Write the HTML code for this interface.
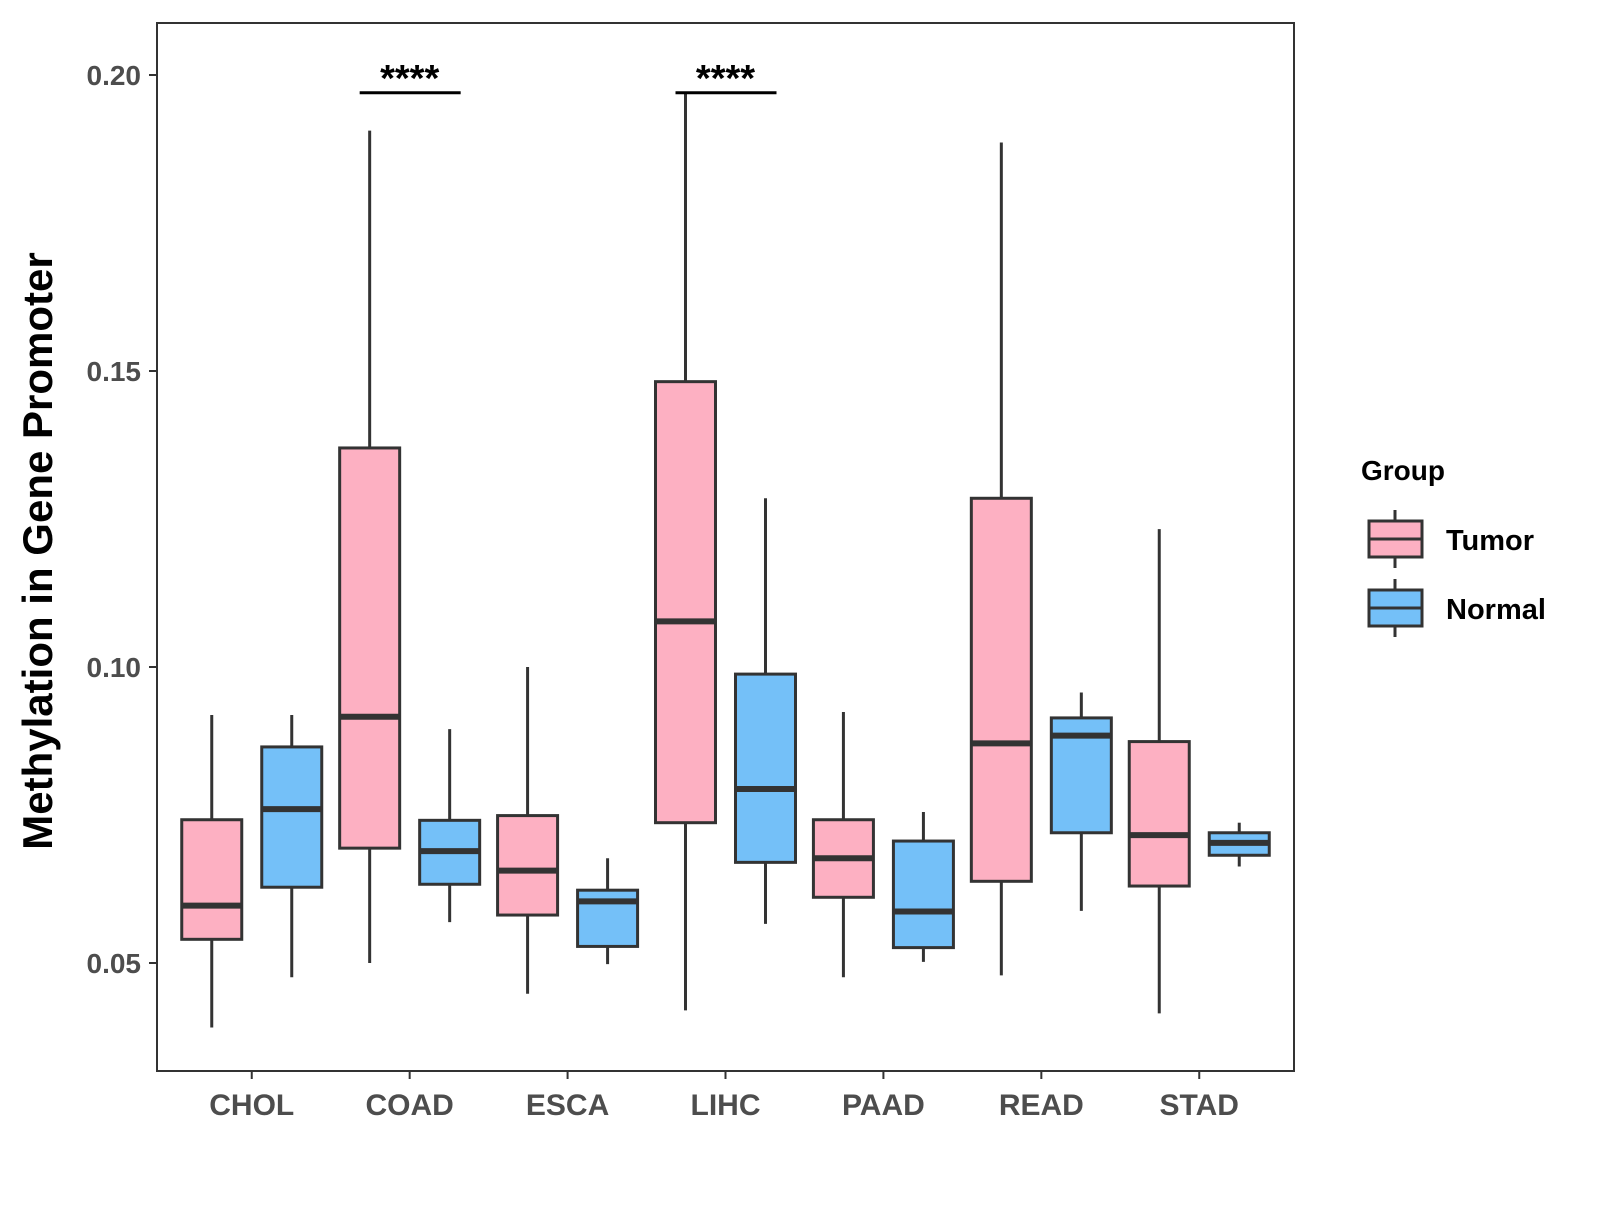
<!DOCTYPE html>
<html><head><meta charset="utf-8"><style>
body{margin:0;background:#fff}
svg text{font-family:"Liberation Sans",Arial,sans-serif;font-weight:bold}
</style></head><body>
<svg id="chart" width="1600" height="1200" xmlns="http://www.w3.org/2000/svg">
<rect x="0" y="0" width="1600" height="1200" fill="#fff"/>
<g id="marks"></g>
<rect x="157" y="23" width="1137" height="1048" fill="none" stroke="#333" stroke-width="2"/>
<g id="axes"></g>
<text x="52" y="551" transform="rotate(-90 52 551)" text-anchor="middle" font-size="42" fill="#000">Methylation in Gene Promoter</text>
<g transform="translate(-7,0)">
<text x="1368" y="480" font-size="28" fill="#000">Group</text>
<g>
<line x1="1402" y1="510" x2="1402" y2="568" stroke="#333" stroke-width="3"/>
<rect x="1376" y="521" width="53" height="36" fill="#FDB0C2" stroke="#333" stroke-width="3"/>
<line x1="1376" y1="539" x2="1429" y2="539" stroke="#333" stroke-width="3"/>
<text x="1453" y="550" font-size="29" fill="#000">Tumor</text>
</g>
<g>
<line x1="1402" y1="579" x2="1402" y2="637" stroke="#333" stroke-width="3"/>
<rect x="1376" y="590" width="53" height="36" fill="#74C0F8" stroke="#333" stroke-width="3"/>
<line x1="1376" y1="608" x2="1429" y2="608" stroke="#333" stroke-width="3"/>
<text x="1453" y="619" font-size="29" fill="#000">Normal</text>
</g>
</g>
</svg>
<script>
const categories=["CHOL","COAD","ESCA","LIHC","PAAD","READ","STAD"];
const tumorLow=[0.0391,0.050,0.0448,0.042,0.0476,0.0479,0.0415];
const tumorQ1=[0.054,0.0694,0.0581,0.0737,0.0611,0.0638,0.063];
const tumorMed=[0.0597,0.0916,0.0656,0.1077,0.0677,0.0871,0.0716];
const tumorQ3=[0.0742,0.137,0.0749,0.1482,0.0742,0.1285,0.0874];
const tumorHigh=[0.0919,0.1906,0.100,0.1969,0.0924,0.1886,0.1233];
const normalLow=[0.0476,0.0569,0.0498,0.0566,0.0502,0.0588,0.0663];
const normalQ1=[0.0628,0.0633,0.0528,0.067,0.0526,0.072,0.0682];
const normalMed=[0.076,0.0689,0.0604,0.0794,0.0587,0.0884,0.0703];
const normalQ3=[0.0865,0.0741,0.0623,0.0988,0.0706,0.0914,0.072];
const normalHigh=[0.0919,0.0895,0.0677,0.1285,0.0755,0.0957,0.0737];
const yTicks=[0.05,0.10,0.15,0.20];
const yTickLabels=["0.05","0.10","0.15","0.20"];
const signifCats=["COAD","LIHC"];
const signifLabels=["****","****"];
const signifY=[0.197,0.197];

const NS="http://www.w3.org/2000/svg";
const left=157,right=1294;
const step=(right-left)/7.2;
function xScale(i){return left+step*(0.6+i);}
function yScale(v){return 75+(0.20-v)/0.05*296;}
function mk(tag,attrs,parent){const e=document.createElementNS(NS,tag);for(const k in attrs)e.setAttribute(k,attrs[k]);parent.appendChild(e);return e;}
const marks=document.getElementById("marks"),axes=document.getElementById("axes");
const bw=60,off=40;
function box(cx,lo,q1,md,q3,hi,fill,name){
  const g=mk("g",{},marks);
  
  
  mk("line",{x1:cx,x2:cx,y1:yScale(hi),y2:yScale(lo),stroke:"#333","stroke-width":3},g);
  mk("rect",{x:cx-bw/2,y:yScale(q3),width:bw,height:yScale(q1)-yScale(q3),fill:fill,stroke:"#333","stroke-width":3},g);
  mk("line",{x1:cx-bw/2,x2:cx+bw/2,y1:yScale(md),y2:yScale(md),stroke:"#333","stroke-width":6},g);
}
categories.forEach((c,i)=>{
  const cx=xScale(i);
  box(cx-off,tumorLow[i],tumorQ1[i],tumorMed[i],tumorQ3[i],tumorHigh[i],"#FDB0C2","box-tumor-"+c.toLowerCase());
  box(cx+off,normalLow[i],normalQ1[i],normalMed[i],normalQ3[i],normalHigh[i],"#74C0F8","box-normal-"+c.toLowerCase());
  mk("line",{x1:cx,x2:cx,y1:1071,y2:1079,stroke:"#333","stroke-width":2},axes);
  const t=mk("text",{x:cx,y:1115,"text-anchor":"middle","font-size":30,fill:"#4d4d4d"},axes);
  t.textContent=c;
  
  
});
yTicks.forEach((v,i)=>{
  const y=yScale(v);
  mk("line",{x1:149,x2:157,y1:y,y2:y,stroke:"#333","stroke-width":2},axes);
  const t=mk("text",{x:141,y:y+10,"text-anchor":"end","font-size":28,fill:"#4d4d4d"},axes);
  t.textContent=yTickLabels[i];
  
  
});
signifCats.forEach((c,k)=>{
  const i=categories.indexOf(c),cx=xScale(i),y=yScale(signifY[k]);
  const g=mk("g",{},marks);
  
  
  mk("line",{x1:cx-off-10,x2:cx+off+11,y1:y,y2:y,stroke:"#000","stroke-width":3},g);
  const t=mk("text",{x:cx,y:y-2,"text-anchor":"middle","font-size":38,fill:"#000"},g);
  t.textContent=signifLabels[k];
});
</script>
</body></html>
